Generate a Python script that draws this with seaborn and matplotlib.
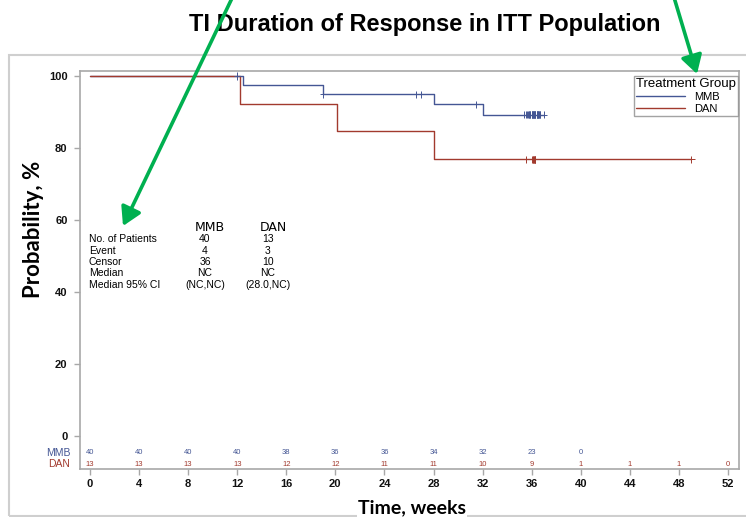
import numpy as np
import pandas as pd
import matplotlib
matplotlib.use("Agg")
import matplotlib.pyplot as plt
import matplotlib.transforms as mtransforms
from matplotlib.patches import Rectangle, FancyArrowPatch, ArrowStyle
from matplotlib.lines import Line2D
import seaborn as sns

# ---- data -------------------------------------------------------------
groups = ["MMB", "DAN"]
group_colors = ["#445694", "#A23A2E"]

# Kaplan-Meier step levels (% still in response) and where each step starts
mmb_step_weeks = [0.0, 12.5, 19.0, 28.0, 32.0]
mmb_step_surv = [100.0, 97.4, 94.9, 92.1, 89.2]
mmb_last_week = 37.0
dan_step_weeks = [0.0, 12.2, 20.1, 28.0]
dan_step_surv = [100.0, 92.3, 84.6, 76.9]
dan_last_week = 49.0

# censoring times (weeks)
mmb_censor_weeks = [12.0, 19.0, 26.6, 27.0, 31.5,
                    35.4, 35.5, 35.6, 35.7, 35.8, 35.8, 35.9, 35.9,
                    36.0, 36.0, 36.0, 36.1, 36.1, 36.1, 36.2, 36.2, 36.2,
                    36.3, 36.3, 36.3, 36.4, 36.4, 36.4, 36.5, 36.5, 36.5,
                    36.6, 36.6, 36.7, 36.7, 37.0]
dan_censor_weeks = [35.5, 36.0, 36.1, 36.1, 36.2, 36.2, 36.3, 36.3, 36.3, 49.0]

# number at risk
tick_weeks = list(range(0, 53, 4))
mmb_at_risk = ["40", "40", "40", "40", "38", "36", "36", "34", "32", "23", "0", "", "", ""]
dan_at_risk = ["13", "13", "13", "13", "12", "12", "11", "11", "10", "9", "1", "1", "1", "0"]

# summary statistics
summary_rows = ["No. of Patients", "Event", "Censor", "Median", "Median 95% CI"]
mmb_summary = ["40", "4", "36", "NC", "(NC,NC)"]
dan_summary = ["13", "3", "10", "NC", "(28.0,NC)"]


def curve_frame(name, weeks, surv, last):
    return pd.DataFrame({"week": list(weeks) + [last],
                         "surv": list(surv) + [surv[-1]],
                         "group": name})


def censor_frame(name, weeks, surv, cens):
    idx = np.searchsorted(weeks, cens, side="right") - 1
    return pd.DataFrame({"week": cens, "surv": np.asarray(surv)[idx], "group": name})


curves = pd.concat([
    curve_frame("MMB", mmb_step_weeks, mmb_step_surv, mmb_last_week),
    curve_frame("DAN", dan_step_weeks, dan_step_surv, dan_last_week),
], ignore_index=True)
censors = pd.concat([
    censor_frame("MMB", mmb_step_weeks, mmb_step_surv, mmb_censor_weeks),
    censor_frame("DAN", dan_step_weeks, dan_step_surv, dan_censor_weeks),
], ignore_index=True)

# ---- figure -----------------------------------------------------------
sns.set_style("white")
plt.rcParams["font.family"] = ["Liberation Sans", "DejaVu Sans"]
plt.rcParams["text.color"] = "black"

W, H = 746, 517
fig = plt.figure(figsize=(W / 100, H / 100), dpi=100)
ax = fig.add_axes([80 / W, 1 - 469 / H, (739 - 80) / W, (469 - 71) / H])

sns.lineplot(data=curves, x="week", y="surv", hue="group", hue_order=groups,
             palette=group_colors, drawstyle="steps-post", estimator=None,
             linewidth=1.0, legend=False, ax=ax)
sns.scatterplot(data=censors, x="week", y="surv", hue="group", hue_order=groups,
                palette=group_colors, marker="+", s=26, linewidth=0.7,
                legend=False, ax=ax, zorder=3)

ax.set_xlim(-0.815, 52.9)
ax.set_ylim(-9.17, 101.4)
ax.set_xticks(tick_weeks)
ax.set_yticks([0, 20, 40, 60, 80, 100])
ax.set_xlabel("")
ax.set_ylabel("")

spine_color = "#A8A8A8"
for sp in ax.spines.values():
    sp.set_visible(True)
    sp.set_color(spine_color)
    sp.set_linewidth(1.2)
ax.tick_params(axis="both", direction="out", length=4, width=1.0,
               color=spine_color, labelcolor="#111111", labelsize=8,
               left=True, bottom=True, top=False, right=False)
ax.tick_params(axis="y", pad=5)
ax.tick_params(axis="x", pad=3)
for lab in ax.get_xticklabels() + ax.get_yticklabels():
    lab.set_fontweight("bold")

# number-at-risk rows
row_y = {"MMB": -4.7, "DAN": -7.8}
left_tr = mtransforms.blended_transform_factory(ax.transAxes, ax.transData)
for g, c, counts in zip(groups, group_colors, [mmb_at_risk, dan_at_risk]):
    ax.text(-0.015, row_y[g], g, transform=left_tr, ha="right", va="center",
            fontsize=7.5, color=c, clip_on=False)
    for wk, n in zip(tick_weeks, counts):
        if n:
            ax.text(wk, row_y[g], n, ha="center", va="center", fontsize=5.5, color=c)

# summary table
row_ys = [54.7, 51.4, 48.3, 45.3, 41.9]
ax.text(9.75, 57.8, "MMB", ha="center", va="center", fontsize=9, family="DejaVu Sans")
ax.text(14.95, 57.8, "DAN", ha="center", va="center", fontsize=9, family="DejaVu Sans")
for y, name, a, b in zip(row_ys, summary_rows, mmb_summary, dan_summary):
    ax.text(-0.1, y, name, ha="left", va="center", fontsize=7.5)
    ax.text(9.37, y, a, ha="center", va="center", fontsize=7.5)
    ax.text(14.5, y, b, ha="center", va="center", fontsize=7.5)

# legend
handles = [Line2D([], [], color=c, lw=1.0) for c in group_colors]
leg = ax.legend(handles, groups, title="Treatment Group", loc="upper right",
                bbox_to_anchor=(0.9985, 0.987), frameon=True, fancybox=False,
                edgecolor="#8C8C8C", fontsize=8, title_fontsize=9.5,
                handlelength=4.4, handletextpad=0.8, labelspacing=0.15,
                borderpad=0.2, borderaxespad=0)
leg._legend_box.align = "left"
leg.get_frame().set_linewidth(1.0)

# outer border
fig.add_artist(Rectangle((9 / W, 1 - 516 / H), (770 - 9) / W, (516 - 55) / H,
                         transform=fig.transFigure, fill=False,
                         edgecolor="#CFCFCF", lw=1.5, zorder=1))

# titles
fig.text(425 / W, 1 - 24 / H, "TI Duration of Response in ITT Population",
         ha="center", va="center", fontsize=17, fontweight="bold", color="black",
         family=["Liberation Sans Narrow", "Liberation Sans"])
fig.text(34 / W, 1 - 229 / H, "Probability, %", rotation=90, ha="center",
         va="center", fontsize=16, fontweight="bold", color="black",
         family=["Lato", "DejaVu Sans"])
fig.text(412 / W, 1 - 499 / H, "Time, weeks", ha="center", va="top",
         fontsize=14, fontweight="bold", color="black", family=["Lato", "DejaVu Sans"],
         bbox=dict(facecolor="white", edgecolor="none", pad=1), zorder=5)

# call-out arrows
head = ArrowStyle("-|>", head_length=0.55, head_width=0.32)
for (x0, y0), (x1, y1) in [((234, -6), (123, 226)), ((673, -6), (697, 74))]:
    fig.add_artist(FancyArrowPatch((x0, H - y0), (x1, H - y1),
                                   transform=mtransforms.IdentityTransform(),
                                   arrowstyle=head, mutation_scale=20,
                                   color="#00B050", lw=2.6,
                                   shrinkA=0, shrinkB=0, zorder=10))

fig.savefig("out.png", dpi=100)
